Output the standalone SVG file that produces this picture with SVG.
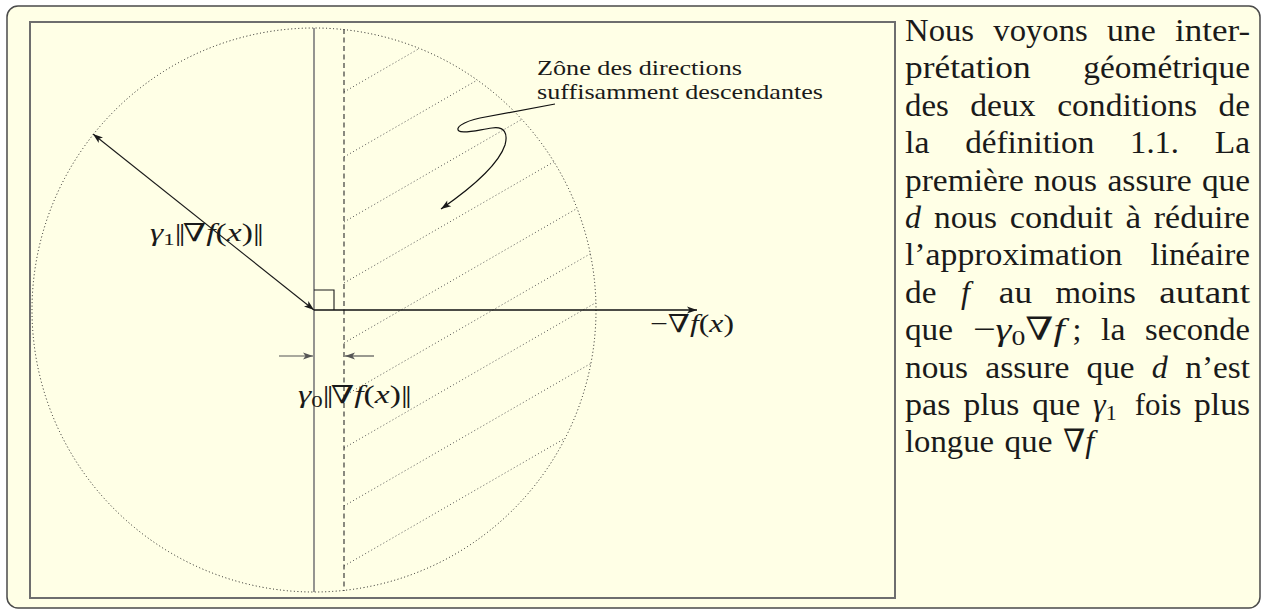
<svg xmlns="http://www.w3.org/2000/svg" width="1266" height="614" viewBox="0 0 1266 614">
<style>
  .txt{font-family:"Liberation Serif","Times New Roman","DejaVu Serif",serif;fill:#1a1a1a}
  .p{font-size:32px}
  .lbl{font-size:22px}
  .math{font-size:25px}
  .it{font-style:italic}
  .bars{letter-spacing:-2px}
  .hatch{stroke:#555;stroke-width:1;stroke-dasharray:1 2.5;fill:none}
  .dot{stroke:#1a1a1a;stroke-width:1;stroke-dasharray:1 2.5;fill:none}
  .thin{stroke:#1a1a1a;stroke-width:1.1;fill:none}
  .dim{stroke:#555;stroke-width:1.2;fill:none}
</style>
<defs>
  <marker id="ah" markerUnits="userSpaceOnUse" markerWidth="14" markerHeight="10" refX="0" refY="0" viewBox="-12 -5 14 10" orient="auto-start-reverse">
    <path d="M0,0 L-10,-3.5 L-7.5,0 L-10,3.5 Z" fill="#1a1a1a"/>
  </marker>
  <marker id="ahg" markerUnits="userSpaceOnUse" markerWidth="14" markerHeight="10" refX="0" refY="0" viewBox="-12 -5 14 10" orient="auto">
    <path d="M0,0 L-10,-3.5 L-7.5,0 L-10,3.5 Z" fill="#555"/>
  </marker>
</defs>

<g id="frame">
  <rect x="7" y="6" width="1253" height="602" rx="11" ry="11" fill="#FFFFE6" stroke="#4a4a4a" stroke-width="1.5"/>
  <rect x="30" y="22" width="865" height="576" fill="none" stroke="#6e6e6e" stroke-width="2"/>
</g>

<g id="circle">
  <circle cx="314" cy="310" r="282" class="dot"/>
</g>

<g id="hatch">
  <line class="hatch" x1="344" y1="92" x2="419.4" y2="48.4"/>
  <line class="hatch" x1="344" y1="157" x2="477.2" y2="80.1"/>
  <line class="hatch" x1="344" y1="222" x2="521.8" y2="119.3"/>
  <line class="hatch" x1="344" y1="283" x2="553.9" y2="161.8"/>
  <line class="hatch" x1="344" y1="343" x2="577.1" y2="208.4"/>
  <line class="hatch" x1="344" y1="396" x2="590.3" y2="253.8"/>
  <line class="hatch" x1="344" y1="448" x2="595.9" y2="302.6"/>
  <line class="hatch" x1="344" y1="506" x2="590.9" y2="363.4"/>
  <line class="hatch" x1="344" y1="566" x2="565.1" y2="438.3"/>
</g>

<g id="axes">
  <line x1="314" y1="28" x2="314" y2="592" stroke="#7a7a7a" stroke-width="1.6"/>
  <line x1="344" y1="29" x2="344" y2="591" stroke="#2a2a2a" stroke-width="1.1" stroke-dasharray="5 3.5"/>
  <path d="M314,290 H334 V310" class="thin"/>
</g>

<g id="connectors">
  <line x1="314" y1="310" x2="697" y2="310" stroke="#111" stroke-width="1.3" marker-end="url(#ah)"/>
  <line x1="314" y1="310" x2="93" y2="134" class="thin" marker-start="url(#ah)" marker-end="url(#ah)"/>
  <line x1="279" y1="356" x2="313" y2="356" class="dim" marker-end="url(#ahg)"/>
  <line x1="374" y1="356" x2="345" y2="356" class="dim" marker-end="url(#ahg)"/>
  <path d="M555,104 L480,118 C462,122 455,128 459,131 C463,134 478,130 492,128 C505,126 508,134 505,145 C500,160 480,182 441,209" stroke="#111" stroke-width="1.2" fill="none" marker-end="url(#ah)"/>
</g>

<g id="labels" class="txt">
  <text class="lbl" x="537" y="74.5" textLength="205" lengthAdjust="spacingAndGlyphs">Zône des directions</text>
  <text class="lbl" x="537" y="99" textLength="286" lengthAdjust="spacingAndGlyphs">suffisamment descendantes</text>
  <text class="math" x="650" y="332" textLength="84" lengthAdjust="spacingAndGlyphs">−∇<tspan class="it">f</tspan>(<tspan class="it">x</tspan>)</text>
  <text class="math" x="150" y="241" textLength="111" lengthAdjust="spacingAndGlyphs"><tspan class="it">γ</tspan><tspan font-size="17" dy="4">1</tspan><tspan dy="-4" class="bars">||</tspan>∇<tspan class="it">f</tspan>(<tspan class="it">x</tspan>)<tspan class="bars">||</tspan></text>
  <text class="math" x="298" y="403" textLength="111" lengthAdjust="spacingAndGlyphs"><tspan class="it">γ</tspan><tspan font-size="17" dy="4">0</tspan><tspan dy="-4" class="bars">||</tspan>∇<tspan class="it">f</tspan>(<tspan class="it">x</tspan>)<tspan class="bars">||</tspan></text>
</g>

<g id="paragraph" class="txt p">
  <text x="905" y="41" textLength="69.1" lengthAdjust="spacingAndGlyphs">Nous</text>
  <text x="993.3" y="41" textLength="94.4" lengthAdjust="spacingAndGlyphs">voyons</text>
  <text x="1106.9" y="41" textLength="48.9" lengthAdjust="spacingAndGlyphs">une</text>
  <text x="1175" y="41" textLength="75.1" lengthAdjust="spacingAndGlyphs">inter-</text>

  <text x="905" y="78.4" textLength="125.7" lengthAdjust="spacingAndGlyphs">prétation</text>
  <text x="1083.3" y="78.4" textLength="166.7" lengthAdjust="spacingAndGlyphs">géométrique</text>

  <text x="905" y="115.8" textLength="43.8" lengthAdjust="spacingAndGlyphs">des</text>
  <text x="970.3" y="115.8" textLength="65.4" lengthAdjust="spacingAndGlyphs">deux</text>
  <text x="1057.2" y="115.8" textLength="139.8" lengthAdjust="spacingAndGlyphs">conditions</text>
  <text x="1218.6" y="115.8" textLength="31.4" lengthAdjust="spacingAndGlyphs">de</text>

  <text x="905" y="153.2" textLength="24.4" lengthAdjust="spacingAndGlyphs">la</text>
  <text x="965.2" y="153.2" textLength="129.1" lengthAdjust="spacingAndGlyphs">définition</text>
  <text x="1130.1" y="153.2" textLength="48.9" lengthAdjust="spacingAndGlyphs">1.1.</text>
  <text x="1214.7" y="153.2" textLength="35.3" lengthAdjust="spacingAndGlyphs">La</text>

  <text x="905" y="190.6" textLength="118.8" lengthAdjust="spacingAndGlyphs">première</text>
  <text x="1034.1" y="190.6" textLength="63" lengthAdjust="spacingAndGlyphs">nous</text>
  <text x="1107.4" y="190.6" textLength="84.2" lengthAdjust="spacingAndGlyphs">assure</text>
  <text x="1201.9" y="190.6" textLength="48" lengthAdjust="spacingAndGlyphs">que</text>

  <text x="905" y="228" class="it">d</text>
  <text x="934" y="228" textLength="63" lengthAdjust="spacingAndGlyphs">nous</text>
  <text x="1009.7" y="228" textLength="103" lengthAdjust="spacingAndGlyphs">conduit</text>
  <text x="1125.4" y="228" textLength="15.7" lengthAdjust="spacingAndGlyphs">à</text>
  <text x="1153.8" y="228" textLength="96.1" lengthAdjust="spacingAndGlyphs">réduire</text>

  <text x="905" y="265.4" textLength="217.4" lengthAdjust="spacingAndGlyphs">l’approximation</text>
  <text x="1150.5" y="265.4" textLength="99.5" lengthAdjust="spacingAndGlyphs">linéaire</text>

  <text x="905" y="302.8" textLength="31.4" lengthAdjust="spacingAndGlyphs">de</text>
  <text x="961" y="302.8" class="it">f</text>
  <text x="998.8" y="302.8" textLength="33.2" lengthAdjust="spacingAndGlyphs">au</text>
  <text x="1055.5" y="302.8" textLength="80.4" lengthAdjust="spacingAndGlyphs">moins</text>
  <text x="1159.3" y="302.8" textLength="90.7" lengthAdjust="spacingAndGlyphs">autant</text>

  <text x="905" y="340.2" textLength="48" lengthAdjust="spacingAndGlyphs">que</text>
  <text x="972.7" y="340.2" textLength="92" lengthAdjust="spacingAndGlyphs">−<tspan class="it">γ</tspan><tspan font-size="22" dy="5">0</tspan><tspan dy="-5">∇</tspan><tspan class="it">f</tspan></text>
  <text x="1072.6" y="340.2">;</text>
  <text x="1101" y="340.2" textLength="24.4" lengthAdjust="spacingAndGlyphs">la</text>
  <text x="1145.1" y="340.2" textLength="104.8" lengthAdjust="spacingAndGlyphs">seconde</text>

  <text x="905" y="377.6" textLength="63" lengthAdjust="spacingAndGlyphs">nous</text>
  <text x="985.2" y="377.6" textLength="84.2" lengthAdjust="spacingAndGlyphs">assure</text>
  <text x="1086.6" y="377.6" textLength="48" lengthAdjust="spacingAndGlyphs">que</text>
  <text x="1151.8" y="377.6" class="it">d</text>
  <text x="1185.3" y="377.6" textLength="64.7" lengthAdjust="spacingAndGlyphs">n’est</text>

  <text x="905" y="415" textLength="45.5" lengthAdjust="spacingAndGlyphs">pas</text>
  <text x="963.4" y="415" textLength="56" lengthAdjust="spacingAndGlyphs">plus</text>
  <text x="1032.2" y="415" textLength="48" lengthAdjust="spacingAndGlyphs">que</text>
  <text x="1093.1" y="415"><tspan class="it">γ</tspan><tspan font-size="22" dy="5">1</tspan></text>
  <text x="1134.8" y="415" textLength="46.4" lengthAdjust="spacingAndGlyphs">fois</text>
  <text x="1194" y="415" textLength="56" lengthAdjust="spacingAndGlyphs">plus</text>

  <text x="905" y="452.4" textLength="89" lengthAdjust="spacingAndGlyphs">longue</text>
  <text x="1004.5" y="452.4" textLength="48" lengthAdjust="spacingAndGlyphs">que</text>
  <text x="1063" y="452.4">∇<tspan class="it">f</tspan></text>
</g>
</svg>
